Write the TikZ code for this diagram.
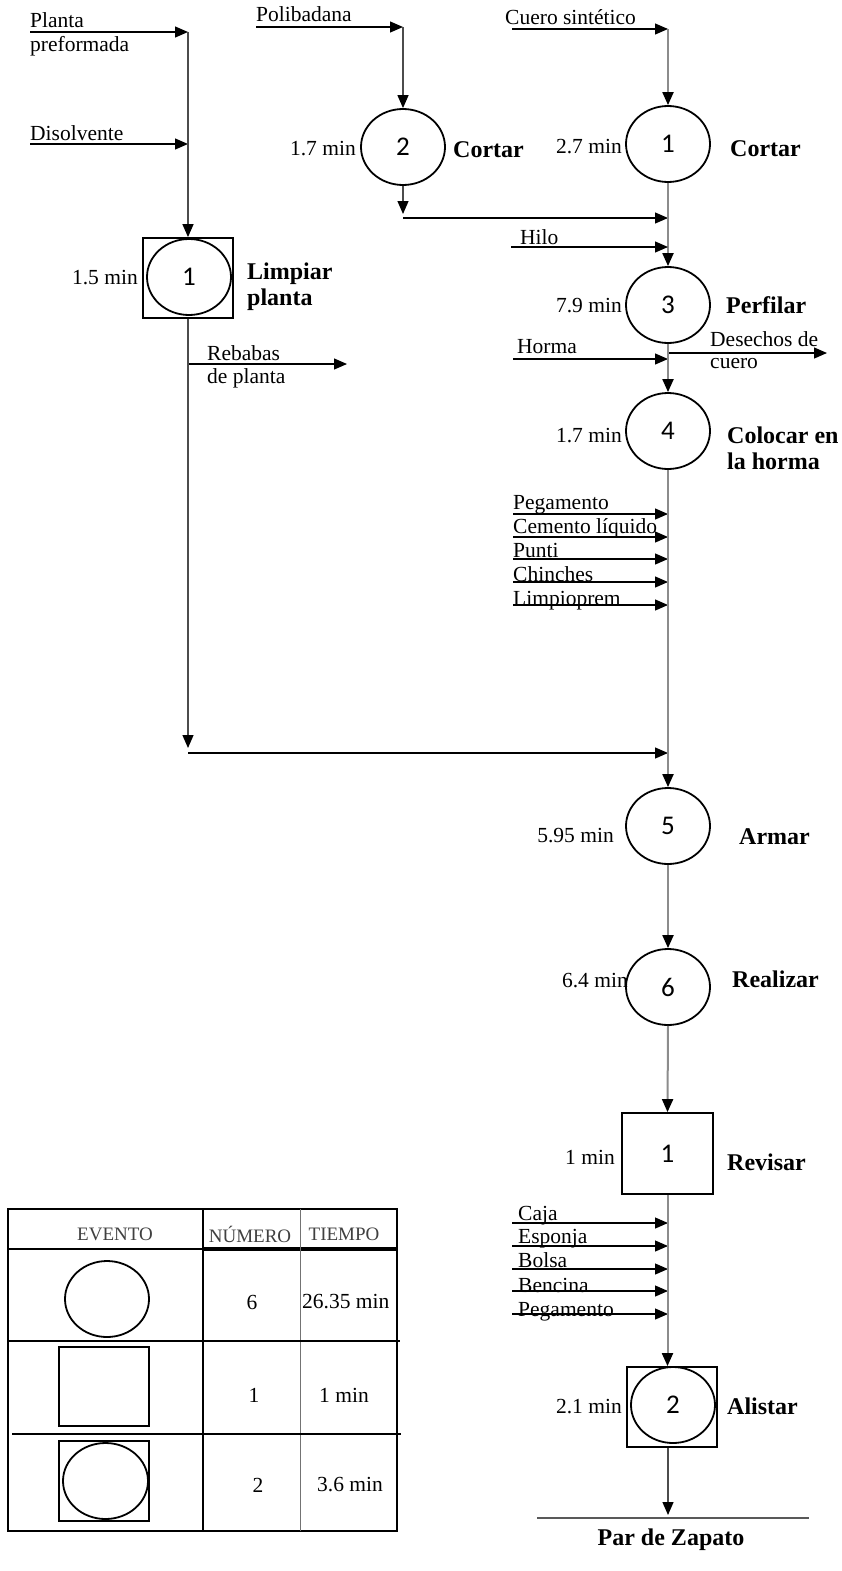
\documentclass[tikz,border=0pt]{standalone}
\usepackage{fontspec}
\setmainfont{Liberation Serif}
\newfontfamily\numfont{Carlito}
\usetikzlibrary{arrows.meta,shapes.geometric}
\begin{document}
\begin{tikzpicture}[x=1pt,y=-1pt,
  op/.style={ellipse,draw,line width=1.8pt,minimum width=84pt,minimum height=76pt,inner sep=0pt,
    font=\numfont\fontsize{27}{27}\selectfont},
  insp/.style={rectangle,draw,line width=1.8pt,minimum width=90pt,minimum height=80pt,inner sep=0pt,
    font=\numfont\fontsize{27}{27}\selectfont},
  txt/.style={inner sep=0pt,font=\fontsize{21.5}{23}\selectfont},
  tm/.style={inner sep=0pt,font=\fontsize{21.5}{23}\selectfont},
  bl/.style={inner sep=0pt,font=\bfseries\fontsize{24}{27}\selectfont},
  hd/.style={inner sep=0pt,text=black!75,font=\fontsize{19}{20}\selectfont},
  tip/.style={-{Triangle[length=13pt,width=11pt,color=black]}},
  arr/.style={line width=1.2pt,tip},
  flow/.style={line width=1.3pt,draw=black!70,tip},
  trunk/.style={line width=2pt,draw=black!45,tip},
  grid/.style={line width=1.2pt},
]
\useasboundingbox (0,0) rectangle (841,1571);

% ---------- left branch: sole preparation ----------
\coordinate (pfA) at (30,32);   \coordinate (pfB) at (188,32);
\coordinate (diA) at (30,144);  \coordinate (diB) at (188,144);
\node[txt,anchor=base west] (pfT1) at (30,28) {Planta};
\node[txt,anchor=base west] (pfT2) at (30,52) {preformada};
\node[txt,anchor=base west] (diT) at (30,140) {Disolvente};
\draw[arr] (pfA) -- (pfB);
\draw[arr] (diA) -- (diB);

\node[insp] (L1) at (188,278) {};
\node[op,draw=none] (L1c) at (189,277) {1};
\draw[line width=1.8pt] (L1c) ellipse [x radius=42pt,y radius=38pt];
\node[tm,anchor=base east] (L1t) at (138,284) {1.5 min};
\node[bl,anchor=base west] (L1a) at (247,279) {Limpiar};
\node[bl,anchor=base west] (L1b) at (247,305) {planta};
\draw[flow] (pfB) -- (L1.north);

\coordinate (rbA) at (188,364); \coordinate (rbB) at (347,364);
\draw[arr] (rbA) -- (rbB);
\node[txt,anchor=base west] (rbT1) at (207,360) {Rebabas};
\node[txt,anchor=base west] (rbT2) at (207,383) {de planta};

\coordinate (lvEnd) at (188,748);
\coordinate (hzA) at (188,753); \coordinate (hzB) at (668,753);
\draw[flow] (L1.south) -- (lvEnd);
\draw[arr] (hzA) -- (hzB);

% ---------- middle branch: lining ----------
\coordinate (poA) at (256,27); \coordinate (poB) at (403,27);
\node[txt,anchor=base west] (poT) at (256,22) {Polibadana};
\draw[arr] (poA) -- (poB);
\node[op] (C2) at (403,147) {2};
\draw[flow] (poB) -- (C2.north);
\node[tm,anchor=base east] (C2t) at (356,155) {1.7 min};
\node[bl,anchor=base west] (C2a) at (453,157) {Cortar};
\coordinate (c2End) at (403,214);
\draw[flow] (C2.south) -- (c2End);
\coordinate (mjA) at (403,218); \coordinate (mjB) at (668,218);
\draw[arr] (mjA) -- (mjB);

% ---------- right branch: upper ----------
\coordinate (cuA) at (512,29); \coordinate (cuB) at (668,29);
\node[txt,anchor=base west] (cuT) at (505,25) {Cuero sintético};
\draw[arr] (cuA) -- (cuB);
\node[op] (R1) at (668,144) {1};
\draw[trunk] (cuB) -- (R1.north);
\node[tm,anchor=base east] (R1t) at (622,153) {2.7 min};
\node[bl,anchor=base west] (R1a) at (730,156) {Cortar};

\node[op] (R3) at (668,305) {3};
\draw[trunk] (R1.south) -- (R3.north);
\coordinate (hiA) at (511,247); \coordinate (hiB) at (668,247);
\node[txt,anchor=base west] (hiT) at (520,244) {Hilo};
\draw[arr] (hiA) -- (hiB);
\node[tm,anchor=base east] (R3t) at (622,312) {7.9 min};
\node[bl,anchor=base west] (R3a) at (726,313) {Perfilar};

\coordinate (hoA) at (513,359); \coordinate (hoB) at (668,359);
\node[txt,anchor=base west] (hoT) at (517,353) {Horma};
\draw[arr] (hoA) -- (hoB);
\coordinate (deA) at (668,353); \coordinate (deB) at (827,353);
\draw[arr] (deA) -- (deB);
\node[txt,anchor=base west] (deT1) at (710,346) {Desechos de};
\node[txt,anchor=base west] (deT2) at (710,368) {cuero};

\node[op] (R4) at (668,431) {4};
\draw[trunk] (R3.south) -- (R4.north);
\node[tm,anchor=base east] (R4t) at (622,442) {1.7 min};
\node[bl,anchor=base west] (R4a) at (727,443) {Colocar en};
\node[bl,anchor=base west] (R4b) at (727,469) {la horma};

% supplies for assembly
\foreach \nm/\ly/\ty/\lab in {pg/514/509/Pegamento, ce/537/533/Cemento líquido, pu/559/557/Punti,
                              ch/582/581/Chinches, li/605/605/Limpioprem}{
  \coordinate (\nm A) at (513,\ly); \coordinate (\nm B) at (668,\ly);
  \node[txt,anchor=base west] (\nm T) at (513,\ty) {\lab};
  \draw[arr] (\nm A) -- (\nm B);
}

\node[op] (R5) at (668,826) {5};
\draw[trunk] (R4.south) -- (R5.north);
\node[tm,anchor=base east] (R5t) at (614,842) {5.95 min};
\node[bl,anchor=base west] (R5a) at (739,844) {Armar};

\node[op] (R6) at (668,987) {6};
\draw[trunk] (R5.south) -- (R6.north);
\node[tm,anchor=base east] (R6t) at (628,987) {6.4 min};
\node[bl,anchor=base west] (R6a) at (732,987) {Realizar};

\node[insp,minimum width=91pt,minimum height=81pt] (Q1) at (667.5,1153.5) {1};
\draw[trunk] (R6.south) -- (Q1.north);
\node[tm,anchor=base east] (Q1t) at (615,1164) {1 min};
\node[bl,anchor=base west] (Q1a) at (727,1170) {Revisar};

% packing supplies
\foreach \nm/\ly/\ty/\lab in {cj/1223/1220/Caja, es/1246/1243/Esponja, bo/1269/1267/Bolsa,
                              be/1291/1292/Bencina, pe/1314/1316/Pegamento}{
  \coordinate (\nm A) at (512,\ly); \coordinate (\nm B) at (668,\ly);
  \node[txt,anchor=base west] (\nm T) at (518,\ty) {\lab};
  \draw[arr] (\nm A) -- (\nm B);
}

\node[insp] (A2) at (672,1407) {};
\node[op,draw=none] (A2c) at (673,1405) {2};
\draw[line width=1.8pt] (A2c) ellipse [x radius=42pt,y radius=38pt];
\draw[trunk] (Q1.south) -- (Q1.south |- A2.north);
\node[tm,anchor=base east] (A2t) at (622,1413) {2.1 min};
\node[bl,anchor=base west] (A2a) at (727,1414) {Alistar};

\coordinate (endT) at (668,1515);
\draw[flow] (endT |- A2.south) -- (endT);
\coordinate (baA) at (537,1518); \coordinate (baB) at (809,1518);
\draw[line width=1.2pt,black!65] (baA) -- (baB);
\node[bl,anchor=base] (endL) at (671,1545) {Par de Zapato};

% ---------- summary table ----------
\draw[line width=2pt] (8,1209) rectangle (397,1531);
\draw[line width=2pt] (8,1249) -- (203,1249);
\draw[line width=3.5pt] (203,1249) -- (397,1249);
\draw[line width=2pt] (203,1209) -- (203,1531);
\draw[line width=1pt,black!55] (300,1209) -- (300,1531);
\draw[grid] (8,1341) -- (400,1341);
\draw[grid] (12,1434) -- (401,1434);

\node[hd] (hEv) at (115,1234) {EVENTO};
\node[hd] (hNu) at (250,1234) {NÚMERO};
\node[hd] (hTi) at (344,1234) {TIEMPO};

\node[op,font=\relax] (kOp) at (107,1299) {};
\node[insp,minimum width=90pt,minimum height=79pt,font=\relax] (kIn) at (104,1386.5) {};
\node[insp,font=\relax] (kCo) at (104,1481) {};
\draw[line width=1.8pt] (105.5,1481) ellipse [x radius=42.5pt,y radius=38pt];

\node[tm] (n1) at (252,1302) {6};
\node[tm,anchor=west] (t1) at (302,1302) {26.35 min};
\node[tm] (n2) at (254,1395) {1};
\node[tm] (t2) at (344,1395) {1 min};
\node[tm] (n3) at (258,1485) {2};
\node[tm] (t3) at (350,1485) {3.6 min};
\end{tikzpicture}
\end{document}
